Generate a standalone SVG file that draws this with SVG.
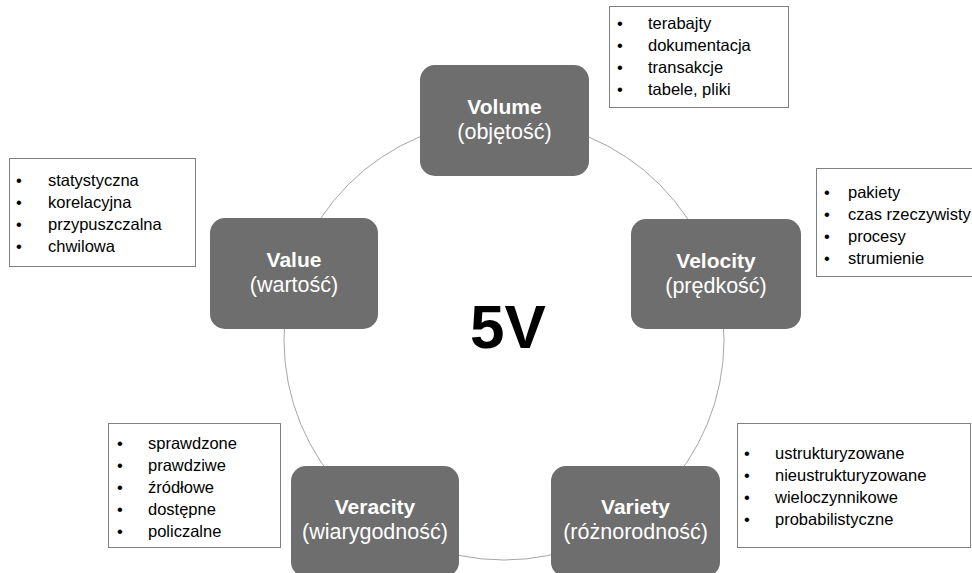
<svg xmlns="http://www.w3.org/2000/svg" width="972" height="573" viewBox="0 0 972 573">
<style>
.node{fill:#6e6e6e;}
.t1{font-family:"Liberation Sans",Arial,sans-serif;font-size:21px;font-weight:bold;fill:#fff;text-anchor:middle;}
.t2{font-family:"Liberation Sans",Arial,sans-serif;font-size:21.5px;fill:#fff;text-anchor:middle;}
.lb{fill:#fff;stroke:#808080;stroke-width:1;}
.li{font-family:"Liberation Sans",Arial,sans-serif;font-size:16.5px;fill:#000;}
.big{font-family:"Liberation Sans",Arial,sans-serif;font-size:62px;font-weight:bold;fill:#000;text-anchor:middle;}
</style>
<rect width="972" height="573" fill="#fff"/>
<g id="connectors">
<circle cx="504" cy="340" r="220" fill="none" stroke="#a6a6a6" stroke-width="1"/>
</g>
<text class="big" x="508" y="348">5V</text>
<g id="volume">
<rect class="node" x="420" y="65" width="169" height="111" rx="15"/>
<text class="t1" x="504.5" y="114">Volume</text>
<text class="t2" x="504.5" y="139">(objętość)</text>
</g>
<g id="value">
<rect class="node" x="210" y="218" width="168" height="111" rx="15"/>
<text class="t1" x="294" y="267">Value</text>
<text class="t2" x="294" y="292">(wartość)</text>
</g>
<g id="velocity">
<rect class="node" x="631" y="219" width="170" height="110" rx="15"/>
<text class="t1" x="716" y="268">Velocity</text>
<text class="t2" x="716" y="293">(prędkość)</text>
</g>
<g id="veracity">
<rect class="node" x="291" y="466" width="168" height="111" rx="15"/>
<text class="t1" x="375" y="514">Veracity</text>
<text class="t2" x="375" y="539">(wiarygodność)</text>
</g>
<g id="variety">
<rect class="node" x="551" y="466" width="169" height="111" rx="15"/>
<text class="t1" x="635.5" y="514">Variety</text>
<text class="t2" x="635.5" y="539">(różnorodność)</text>
</g>
<g id="volume-list">
<rect class="lb" x="609.5" y="6.5" width="179" height="101"/>
<text class="li" x="617" y="29">•</text><text class="li" x="648" y="29">terabajty</text>
<text class="li" x="617" y="51">•</text><text class="li" x="648" y="51">dokumentacja</text>
<text class="li" x="617" y="73">•</text><text class="li" x="648" y="73">transakcje</text>
<text class="li" x="617" y="95">•</text><text class="li" x="648" y="95">tabele, pliki</text>
</g>
<g id="value-list">
<rect class="lb" x="9.5" y="158.5" width="186" height="108"/>
<text class="li" x="16" y="186">•</text><text class="li" x="48" y="186">statystyczna</text>
<text class="li" x="16" y="208">•</text><text class="li" x="48" y="208">korelacyjna</text>
<text class="li" x="16" y="230">•</text><text class="li" x="48" y="230">przypuszczalna</text>
<text class="li" x="16" y="252">•</text><text class="li" x="48" y="252">chwilowa</text>
</g>
<g id="velocity-list">
<rect class="lb" x="816.5" y="168.5" width="170" height="108"/>
<text class="li" x="824" y="198">•</text><text class="li" x="848" y="198">pakiety</text>
<text class="li" x="824" y="220">•</text><text class="li" x="848" y="220">czas rzeczywisty</text>
<text class="li" x="824" y="242">•</text><text class="li" x="848" y="242">procesy</text>
<text class="li" x="824" y="264">•</text><text class="li" x="848" y="264">strumienie</text>
</g>
<g id="veracity-list">
<rect class="lb" x="108.5" y="423.5" width="172" height="124"/>
<text class="li" x="117" y="449">•</text><text class="li" x="148" y="449">sprawdzone</text>
<text class="li" x="117" y="471">•</text><text class="li" x="148" y="471">prawdziwe</text>
<text class="li" x="117" y="493">•</text><text class="li" x="148" y="493">źródłowe</text>
<text class="li" x="117" y="515">•</text><text class="li" x="148" y="515">dostępne</text>
<text class="li" x="117" y="537">•</text><text class="li" x="148" y="537">policzalne</text>
</g>
<g id="variety-list">
<rect class="lb" x="737.5" y="423.5" width="233" height="124"/>
<text class="li" x="744" y="459">•</text><text class="li" x="775" y="459">ustrukturyzowane</text>
<text class="li" x="744" y="481">•</text><text class="li" x="775" y="481">nieustrukturyzowane</text>
<text class="li" x="744" y="503">•</text><text class="li" x="775" y="503">wieloczynnikowe</text>
<text class="li" x="744" y="525">•</text><text class="li" x="775" y="525">probabilistyczne</text>
</g>
</svg>
